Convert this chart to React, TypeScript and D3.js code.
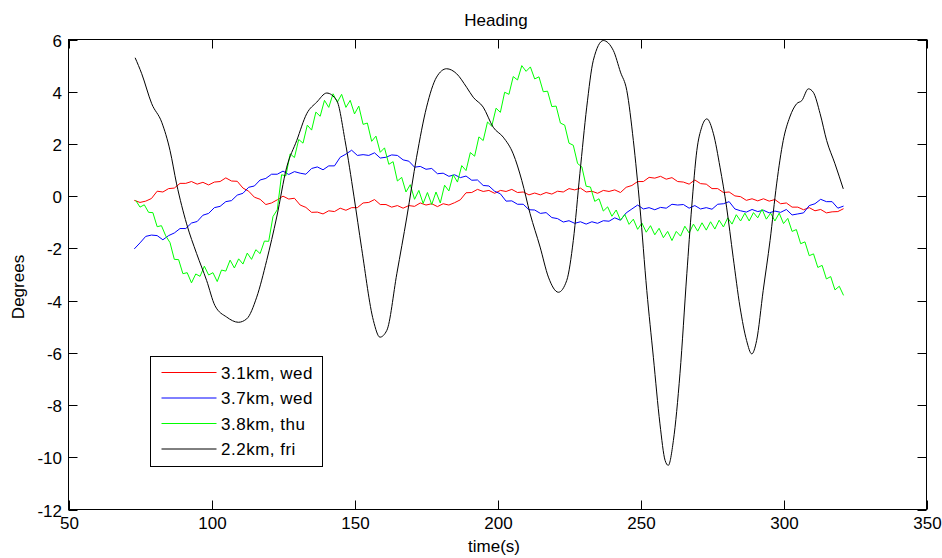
import React from "react";
import * as d3 from "d3";

// ---- Data ----
const TITLE = "Heading";
const X_LABEL = "time(s)";
const Y_LABEL = "Degrees";
const X_TICKS = [50, 100, 150, 200, 250, 300, 350];
const Y_TICKS = [6, 4, 2, 0, -2, -4, -6, -8, -10, -12];
const SERIES_NAMES = ["3.1km, wed", "3.7km, wed", "3.8km, thu", "2.2km, fri"];
const SERIES_COLORS = ["#ff0000", "#0000ff", "#00ff00", "#000000"];

// sampled series: start time, sample step (s), values
const RED_T0 = 73;
const RED_STEP = 2;
const RED_VALUES = [
  -0.16, -0.24, -0.19, -0.09, 0.19, 0.16, 0.29, 0.31, 0.49, 0.49, 0.56, 0.46, 0.53, 0.43, 0.54, 0.56,
  0.7, 0.58, 0.57, 0.31, 0.19, -0.04, -0.12, -0.32, -0.26, -0.14, 0.0, -0.11, -0.08, -0.34, -0.43, -0.62,
  -0.61, -0.68, -0.56, -0.59, -0.46, -0.54, -0.44, -0.44, -0.26, -0.24, -0.13, -0.32, -0.32, -0.42, -0.36, -0.46,
  -0.36, -0.39, -0.26, -0.34, -0.29, -0.4, -0.29, -0.34, -0.25, -0.14, 0.13, 0.14, 0.26, 0.18, 0.22, 0.11,
  0.22, 0.18, 0.26, 0.14, 0.16, 0.05, 0.12, 0.05, 0.14, 0.08, 0.19, 0.16, 0.29, 0.24, 0.31, 0.16,
  0.19, 0.11, 0.22, 0.18, 0.24, 0.14, 0.34, 0.41, 0.56, 0.56, 0.72, 0.69, 0.76, 0.65, 0.71, 0.56,
  0.54, 0.46, 0.62, 0.48, 0.46, 0.29, 0.29, 0.14, 0.16, 0.01, -0.02, -0.16, -0.1, -0.18, -0.1, -0.19,
  -0.13, -0.29, -0.26, -0.42, -0.42, -0.52, -0.44, -0.56, -0.51, -0.64, -0.6, -0.59, -0.48,
];

const BLUE_T0 = 73;
const BLUE_STEP = 2;
const BLUE_VALUES = [
  -2.02, -1.79, -1.54, -1.49, -1.51, -1.67, -1.51, -1.41, -1.24, -1.24, -1.03, -0.97, -0.73, -0.66, -0.44, -0.39,
  -0.21, -0.17, 0.04, 0.11, 0.34, 0.39, 0.62, 0.68, 0.84, 0.84, 0.96, 0.83, 0.94, 0.88, 0.84, 1.06,
  1.12, 1.01, 1.16, 1.16, 1.49, 1.61, 1.76, 1.56, 1.59, 1.56, 1.66, 1.46, 1.49, 1.58, 1.56, 1.39,
  1.34, 1.11, 1.14, 1.03, 1.06, 0.86, 0.88, 0.76, 0.82, 0.71, 0.77, 0.61, 0.62, 0.41, 0.39, 0.19,
  0.09, -0.19, -0.18, -0.31, -0.31, -0.52, -0.53, -0.66, -0.63, -0.82, -0.86, -0.99, -0.94, -1.04, -0.98, -1.07,
  -0.98, -1.04, -0.94, -0.96, -0.83, -0.92, -0.64, -0.49, -0.34, -0.49, -0.44, -0.52, -0.43, -0.46, -0.31, -0.34,
  -0.32, -0.46, -0.36, -0.49, -0.44, -0.5, -0.31, -0.29, -0.21, -0.49, -0.56, -0.61, -0.51, -0.59, -0.54, -0.64,
  -0.57, -0.62, -0.51, -0.72, -0.68, -0.64, -0.36, -0.29, -0.12, -0.21, -0.21, -0.46, -0.38,
];

const GREEN_T0 = 73.5;
const GREEN_STEP = 1.5;
const GREEN_VALUES = [
  -0.16, -0.42, -0.33, -0.62, -0.63, -1.17, -1.13, -1.52, -1.78, -2.42, -2.43, -2.97, -2.93, -3.32, -2.98, -3.07,
  -2.68, -3.02, -2.93, -3.27, -2.83, -2.87, -2.45, -2.75, -2.4, -2.6, -2.18, -2.42, -2.05, -2.2, -1.72, -1.73,
  -0.78, -0.52, 0.82, 0.78, 1.62, 1.48, 2.17, 2.03, 2.72, 2.53, 3.22, 3.06, 3.67, 3.4, 3.92, 3.6,
  3.9, 3.4, 3.67, 3.15, 3.45, 2.75, 2.8, 2.1, 2.3, 1.68, 1.85, 1.22, 1.32, 0.58, 0.72, 0.16,
  0.44, -0.12, 0.22, -0.28, 0.14, -0.32, 0.16, -0.26, 0.42, 0.2, 0.82, 0.54, 1.17, 0.98, 1.67, 1.53,
  2.27, 2.13, 2.84, 2.68, 3.37, 3.21, 3.98, 3.9, 4.58, 4.45, 5.0, 4.78, 4.95, 4.49, 4.57, 4.0,
  4.02, 3.43, 3.45, 2.8, 2.72, 2.03, 1.95, 1.25, 1.12, 0.38, 0.35, -0.2, -0.1, -0.57, -0.41, -0.77,
  -0.53, -0.92, -0.7, -1.08, -0.88, -1.27, -1.03, -1.38, -1.13, -1.48, -1.23, -1.59, -1.35, -1.7, -1.35, -1.53,
  -1.15, -1.41, -1.07, -1.34, -1.02, -1.3, -0.98, -1.26, -0.92, -1.18, -0.83, -1.07, -0.71, -0.95, -0.65, -0.95,
  -0.63, -0.83, -0.5, -0.88, -0.65, -0.95, -0.65, -1.05, -0.85, -1.35, -1.28, -1.82, -1.75, -2.28, -2.21, -2.73,
  -2.65, -3.17, -3.08, -3.59, -3.45, -3.8,
];

const BLACK_T = [
  73.3, 75.6, 79.1, 82.6, 85.5, 87.8, 91.3, 94.8, 98.3, 101.2, 105.3, 109.4, 112.3, 115.8, 119.3, 122.8,
  126.3, 129.8, 133.3, 136.8, 140.3, 143.8, 146.7, 149.8, 152.5, 156.6, 158.9, 161.3, 164.8, 168.3, 171.7, 175.2,
  178.7, 182.2, 185.7, 189.2, 191.5, 195, 198.5, 202, 205.5, 208.5, 211.4, 214.9, 217.8, 221.3, 224.2, 226.5,
  228.8, 231.2, 233.5, 237, 240.5, 243, 245.2, 247.5, 249.8, 252.2, 254.5, 256.8, 258.6, 259.7, 261.5, 263.8,
  266.2, 267.9, 269.7, 271.4, 273.2, 275.5, 277.8, 280.1, 282.4, 284.8, 287.1, 288.9, 290.6, 292.9, 295.3, 297.6,
  299.9, 302.2, 304.6, 306.4, 308.7, 310.4, 312.8, 315.1, 318, 320.9,
];
const BLACK_VALUES = [
  5.3, 4.69, 3.54, 2.83, 1.75, 0.47, -1.06, -2.2, -3.23, -4.19, -4.63, -4.83, -4.7, -3.87, -2.46, -0.8,
  1.11, 2.13, 3.16, 3.6, 3.95, 3.66, 2.13, 0.0, -2.0, -4.76, -5.4, -5.14, -2.97, -0.8, 1.49, 3.41,
  4.56, 4.88, 4.69, 4.17, 3.79, 3.41, 2.64, 2.26, 1.62, 0.6, -0.67, -1.95, -3.1, -3.68, -3.23, -1.7,
  0.86, 3.41, 5.2, 5.96, 5.58, 4.75, 4.05, 2.13, -0.42, -3.61, -6.17, -8.72, -10.12, -10.31, -9.36, -6.8,
  -2.97, -0.42, 1.75, 2.64, 2.96, 2.39, 1.11, -0.42, -2.34, -4.25, -5.53, -6.04, -5.53, -3.61, -1.7, 0.47,
  2.13, 3.03, 3.54, 3.66, 4.11, 3.98, 3.16, 2.13, 1.24, 0.28,
];

type Pt = [number, number];
const sampled = (t0: number, step: number, vals: number[]): Pt[] =>
  vals.map((v, i) => [t0 + i * step, v]);

const SERIES: Pt[][] = [
  sampled(RED_T0, RED_STEP, RED_VALUES),
  sampled(BLUE_T0, BLUE_STEP, BLUE_VALUES),
  sampled(GREEN_T0, GREEN_STEP, GREEN_VALUES),
  BLACK_T.map((t, i) => [t, BLACK_VALUES[i]] as Pt),
];

// ---- Layout ----
const W = 942;
const H = 558;
const L = 68.5, R = 926.5, T = 39.5, B = 509.5;
const FONT = "'Liberation Sans', Arial, sans-serif";

export default function App() {
  const x = d3.scaleLinear().domain([50, 350]).range([L, R]);
  const y = d3.scaleLinear().domain([-12, 6]).range([B, T]);
  const line = d3
    .line<Pt>()
    .x((d) => x(d[0]))
    .y((d) => y(d[1]));
  const smooth = d3
    .line<Pt>()
    .x((d) => x(d[0]))
    .y((d) => y(d[1]))
    .curve(d3.curveMonotoneX);
  const tick = 9;

  const legX = 150.5, legY = 356.5, legW = 172, legH = 110;
  const rowY = (i: number) => 372.5 + i * 25.5;

  return (
    <svg
      width={W}
      height={H}
      style={{ position: "absolute", left: 0, top: 0, background: "#fff" }}
      fontFamily={FONT}
    >
      <rect x={0} y={0} width={W} height={H} fill="#fff" />
      <g>
        {SERIES.map((s, i) => (
          <path
            key={i}
            d={(i === 3 ? smooth(s) : line(s)) || ""}
            fill="none"
            stroke={SERIES_COLORS[i]}
            strokeWidth={1}
          />
        ))}
      </g>
      {/* axes box */}
      <rect x={L} y={T} width={R - L} height={B - T} fill="none" stroke="#000" strokeWidth={1} />
      {X_TICKS.map((v) => {
        const px = Math.round(x(v)) + 0.5;
        return (
          <g key={"x" + v}>
            <line x1={px} x2={px} y1={B} y2={B - tick} stroke="#000" />
            <line x1={px} x2={px} y1={T} y2={T + tick} stroke="#000" />
            <text x={px} y={529} fontSize={17} textAnchor="middle" fill="#000">
              {v}
            </text>
          </g>
        );
      })}
      {Y_TICKS.map((v) => {
        const py = Math.round(y(v)) + 0.5;
        return (
          <g key={"y" + v}>
            <line x1={L} x2={L + tick} y1={py} y2={py} stroke="#000" />
            <line x1={R} x2={R - tick} y1={py} y2={py} stroke="#000" />
            <text x={62} y={py} dy="0.36em" fontSize={17} textAnchor="end" fill="#000">
              {v}
            </text>
          </g>
        );
      })}
      <text x={496} y={26} fontSize={17} textAnchor="middle" fill="#000">
        {TITLE}
      </text>
      <text x={494} y={552} fontSize={17} textAnchor="middle" fill="#000">
        {X_LABEL}
      </text>
      <text
        transform={`translate(24,287) rotate(-90)`}
        fontSize={17}
        textAnchor="middle"
        fill="#000"
      >
        {Y_LABEL}
      </text>
      {/* legend */}
      <rect x={legX} y={legY} width={legW} height={legH} fill="#fff" stroke="#000" strokeWidth={1} />
      {SERIES_NAMES.map((n, i) => (
        <g key={n}>
          <line x1={161.5} x2={216.5} y1={rowY(i)} y2={rowY(i)} stroke={SERIES_COLORS[i]} strokeWidth={1} />
          <text x={221} y={rowY(i)} dy="0.36em" fontSize={17} letterSpacing={0.5} fill="#000">
            {n}
          </text>
        </g>
      ))}
    </svg>
  );
}
